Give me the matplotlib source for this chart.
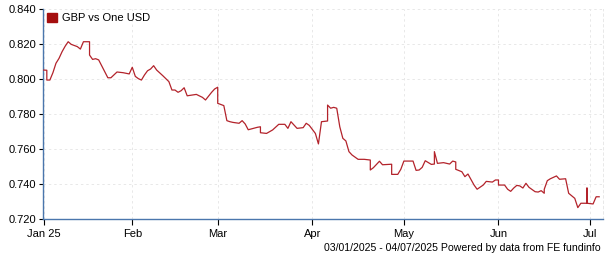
"""
GBP vs One USD - line chart, Jan to Jul 2025
"""

import matplotlib
matplotlib.use("Agg")
import matplotlib.pyplot as plt
import pandas as pd

# Data (repeated dates give vertical steps)
dates = [
    "2025-01-03", "2025-01-04", "2025-01-04", "2025-01-05", "2025-01-06", "2025-01-07",
    "2025-01-08", "2025-01-09", "2025-01-10", "2025-01-11", "2025-01-12", "2025-01-14",
    "2025-01-15", "2025-01-16", "2025-01-18", "2025-01-18", "2025-01-19", "2025-01-20",
    "2025-01-21", "2025-01-22", "2025-01-24", "2025-01-25", "2025-01-27", "2025-01-29",
    "2025-01-31", "2025-02-01", "2025-02-02", "2025-02-03", "2025-02-04", "2025-02-05",
    "2025-02-06", "2025-02-07", "2025-02-08", "2025-02-09", "2025-02-11", "2025-02-13",
    "2025-02-14", "2025-02-15", "2025-02-16", "2025-02-17", "2025-02-18", "2025-02-19",
    "2025-02-21", "2025-02-22", "2025-02-24", "2025-02-25", "2025-02-27", "2025-02-28",
    "2025-03-01", "2025-03-01", "2025-03-03", "2025-03-04", "2025-03-05", "2025-03-06",
    "2025-03-08", "2025-03-09", "2025-03-10", "2025-03-11", "2025-03-14", "2025-03-15",
    "2025-03-15", "2025-03-17", "2025-03-19", "2025-03-21", "2025-03-23", "2025-03-24",
    "2025-03-25", "2025-03-27", "2025-03-29", "2025-03-30", "2025-03-31", "2025-04-02",
    "2025-04-03", "2025-04-04", "2025-04-06", "2025-04-06", "2025-04-07", "2025-04-08",
    "2025-04-09", "2025-04-10", "2025-04-11", "2025-04-12", "2025-04-13", "2025-04-14",
    "2025-04-16", "2025-04-18", "2025-04-20", "2025-04-20", "2025-04-21", "2025-04-23",
    "2025-04-24", "2025-04-27", "2025-04-27", "2025-04-29", "2025-04-30", "2025-05-01",
    "2025-05-04", "2025-05-05", "2025-05-06", "2025-05-07", "2025-05-08", "2025-05-10",
    "2025-05-11", "2025-05-11", "2025-05-12", "2025-05-14", "2025-05-16", "2025-05-17",
    "2025-05-18", "2025-05-18", "2025-05-20", "2025-05-21", "2025-05-22", "2025-05-24",
    "2025-05-25", "2025-05-27", "2025-05-28", "2025-05-30", "2025-05-31", "2025-06-01",
    "2025-06-01", "2025-06-03", "2025-06-04", "2025-06-05", "2025-06-06", "2025-06-07",
    "2025-06-08", "2025-06-09", "2025-06-10", "2025-06-11", "2025-06-13", "2025-06-14",
    "2025-06-15", "2025-06-16", "2025-06-16", "2025-06-17", "2025-06-18", "2025-06-20",
    "2025-06-21", "2025-06-23", "2025-06-24", "2025-06-26", "2025-06-27", "2025-06-28",
    "2025-06-30", "2025-06-30", "2025-06-30", "2025-07-02", "2025-07-03", "2025-07-04",
]
rates = [
    0.8051, 0.8050, 0.7994, 0.7994, 0.8036, 0.8090,
    0.8118, 0.8156, 0.8187, 0.8213, 0.8198, 0.8185,
    0.8171, 0.8213, 0.8213, 0.8137, 0.8112, 0.8116,
    0.8109, 0.8075, 0.8007, 0.8007, 0.8040, 0.8036,
    0.8029, 0.8067, 0.8015, 0.8002, 0.7994, 0.8023,
    0.8047, 0.8057, 0.8076, 0.8051, 0.8019, 0.7985,
    0.7937, 0.7937, 0.7924, 0.7933, 0.7950, 0.7904,
    0.7909, 0.7912, 0.7895, 0.7880, 0.7924, 0.7943,
    0.7953, 0.7861, 0.7848, 0.7762, 0.7756, 0.7752,
    0.7747, 0.7762, 0.7743, 0.7710, 0.7724, 0.7727,
    0.7693, 0.7689, 0.7709, 0.7741, 0.7741, 0.7718,
    0.7756, 0.7718, 0.7722, 0.7747, 0.7735, 0.7689,
    0.7629, 0.7756, 0.7760, 0.7851, 0.7833, 0.7838,
    0.7833, 0.7727, 0.7661, 0.7646, 0.7585, 0.7566,
    0.7541, 0.7541, 0.7537, 0.7480, 0.7493, 0.7530,
    0.7510, 0.7513, 0.7455, 0.7455, 0.7484, 0.7531,
    0.7531, 0.7478, 0.7480, 0.7495, 0.7533, 0.7512,
    0.7514, 0.7585, 0.7518, 0.7522, 0.7514, 0.7531,
    0.7526, 0.7484, 0.7470, 0.7442, 0.7457, 0.7394,
    0.7370, 0.7394, 0.7415, 0.7411, 0.7423, 0.7423,
    0.7394, 0.7394, 0.7370, 0.7358, 0.7377, 0.7392,
    0.7389, 0.7377, 0.7404, 0.7381, 0.7356, 0.7354,
    0.7362, 0.7347, 0.7370, 0.7419, 0.7430, 0.7446,
    0.7427, 0.7430, 0.7347, 0.7318, 0.7265, 0.7290,
    0.7290, 0.7377, 0.7290, 0.7286, 0.7327, 0.7327,
]

tick_dates = ["2025-01-03", "2025-02-01", "2025-03-01", "2025-04-01",
              "2025-05-01", "2025-06-01", "2025-07-01"]
tick_labels = ["Jan 25", "Feb", "Mar", "Apr", "May", "Jun", "Jul"]
y_ticks = [0.720, 0.740, 0.760, 0.780, 0.800, 0.820, 0.840]

LINE_COLOR = "#b3232b"
AXIS_COLOR = "#4a76ad"
GRID_COLOR = "#e8e8e8"
DASH = (0, (2.5, 3))

plt.rcParams["font.family"] = ["Liberation Sans", "DejaVu Sans"]
plt.rcParams["font.size"] = 8

x = pd.to_datetime(dates)

fig = plt.figure(figsize=(6.05, 2.6), dpi=100)
ax = fig.add_axes([43 / 605, 1 - 219 / 260, 560 / 605, 210 / 260])

ax.plot(x, rates, color=LINE_COLOR, linewidth=0.9, zorder=3)

ax.set_xlim(pd.Timestamp("2025-01-02 18:00"), pd.Timestamp("2025-07-05 06:00"))
ax.set_ylim(0.720, 0.840)
ax.set_yticks(y_ticks)
ax.set_yticklabels([f"{v:.3f}" for v in y_ticks])
ax.set_xticks(pd.to_datetime(tick_dates))
ax.set_xticklabels(tick_labels)

ax.grid(True, color=GRID_COLOR, linestyle=DASH, linewidth=0.7)
ax.set_axisbelow(True)

ax.spines["top"].set_visible(False)
ax.spines["right"].set_color(GRID_COLOR)
ax.spines["right"].set_linestyle(DASH)
ax.spines["right"].set_linewidth(0.7)
for side in ["left", "bottom"]:
    ax.spines[side].set_color(AXIS_COLOR)
    ax.spines[side].set_linewidth(1.0)

ax.tick_params(axis="y", length=3, width=0.8, color="black", pad=2, labelsize=8)
ax.tick_params(axis="x", length=4, width=0.8, color="black", pad=3, labelsize=8)

ax.legend(loc="upper left", frameon=False, handlelength=0.9, handleheight=0.9,
          handles=[plt.Rectangle((0, 0), 1, 1, color="#a50f0f")],
          labels=["GBP vs One USD"], fontsize=8, borderaxespad=0.05,
          handletextpad=0.5, borderpad=0.3)

fig.text(601 / 605, 1 - 248 / 260,
         "03/01/2025 - 04/07/2025 Powered by data from FE fundinfo",
         ha="right", va="center", fontsize=7.6)

plt.savefig("out.png", dpi=100)
plt.close()
